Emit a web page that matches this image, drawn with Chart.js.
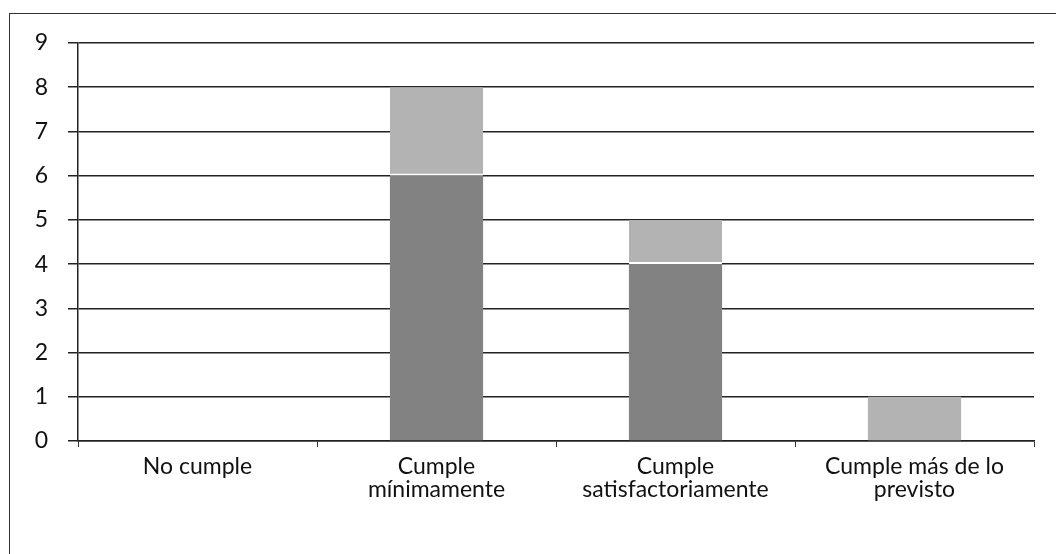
<!DOCTYPE html>
<html>
<head>
<meta charset="utf-8">
<script src="https://cdn.jsdelivr.net/npm/chart.js@4/dist/chart.umd.min.js"></script>
<style>
  html, body { margin: 0; padding: 0; background: #fff; overflow: hidden; }
  #wrap { position: relative; width: 1056px; height: 554px; }
  #frame { position: absolute; left: 9px; top: 13px; width: 1100px; height: 600px;
           border-left: 1.5px solid #333; border-top: 1.5px solid #333; }
  canvas { position: absolute; left: 0; top: 0; }
</style>
</head>
<body>
<div id="wrap">
  <div id="frame"></div>
  <canvas id="myChart" width="1056" height="554"></canvas>
</div>
<script>
    const categories = ['No cumple', ['Cumple', 'mínimamente'], ['Cumple', 'satisfactoriamente'], ['Cumple más de lo', 'previsto']];
    const darkValues = [0, 6, 4, 0];
    const lightValues = [0, 2, 1, 1];
    const yTicks = [0, 1, 2, 3, 4, 5, 6, 7, 8, 9];

    const ctx = document.getElementById('myChart');
    new Chart(ctx, {
        type: 'bar',
        data: {
            labels: categories,
            datasets: [{
                data: darkValues,
                backgroundColor: '#828282',
                borderWidth: 0,
                barPercentage: 0.39,
                categoryPercentage: 1
            }, {
                data: lightValues,
                backgroundColor: '#b3b3b3',
                borderColor: '#ffffff',
                // white seam only where the light part sits on a dark part
                borderWidth: function (c) {
                    return { bottom: darkValues[c.dataIndex] > 0 ? 2 : 0, top: 0, left: 0, right: 0 };
                },
                borderSkipped: false,
                barPercentage: 0.39,
                categoryPercentage: 1
            }]
        },
        options: {
            responsive: false,
            animation: false,
            layout: { padding: { top: 43, right: 22, left: 0, bottom: 0 } },
            plugins: { legend: { display: false }, tooltip: { enabled: false } },
            scales: {
                x: {
                    stacked: true,
                    offset: true,
                    afterFit: function (scale) { scale.height = 113; },
                    grid: { offset: true, drawOnChartArea: false, color: '#333', tickLength: 6 },
                    border: { color: '#222', width: 1.5 },
                    ticks: { color: '#111', padding: 8, font: { family: 'Lato', size: 23, lineHeight: 1.0 }, maxRotation: 0 }
                },
                y: {
                    stacked: true,
                    min: 0,
                    max: 9,
                    afterFit: function (scale) { scale.width = 78; },
                    afterBuildTicks: function (scale) { scale.ticks = yTicks.map(v => ({ value: v })); },
                    grid: { color: '#222', lineWidth: 1.5, tickLength: 10 },
                    border: { color: '#222', width: 1.5 },
                    ticks: { color: '#111', padding: 20, font: { family: 'Lato', size: 23 } }
                }
            }
        }
    });
</script>
</body>
</html>
